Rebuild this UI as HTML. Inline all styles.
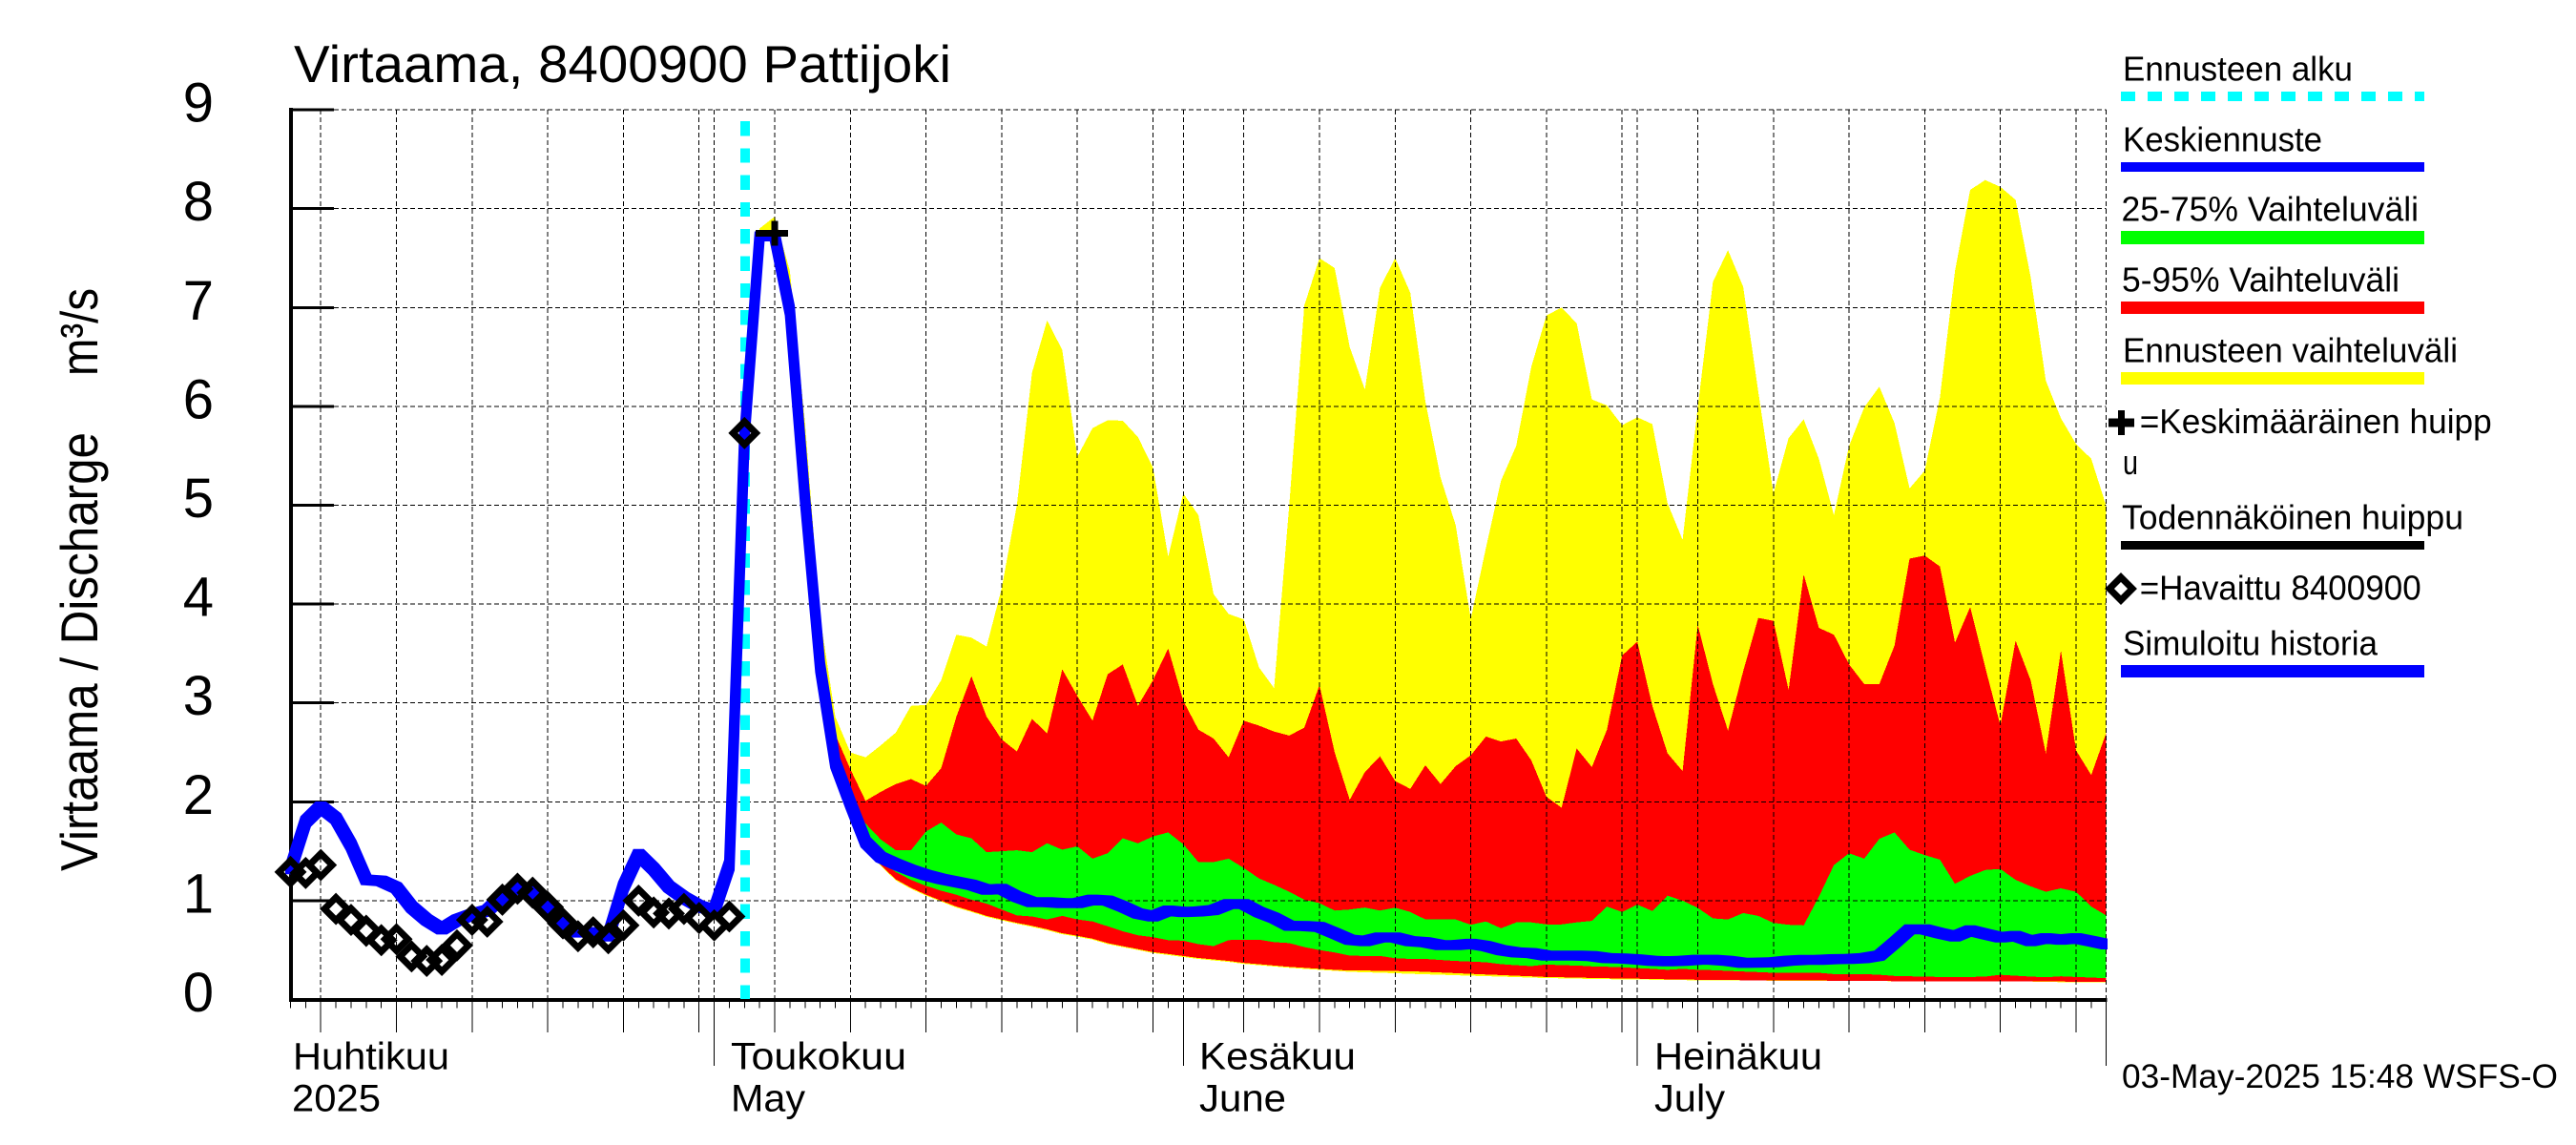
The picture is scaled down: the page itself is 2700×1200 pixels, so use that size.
<!DOCTYPE html>
<html lang="fi">
<head>
<meta charset="utf-8">
<title>Virtaama, 8400900 Pattijoki</title>
<style>
html,body{margin:0;padding:0;background:#fff;}
svg{display:block;}
text{font-family:"Liberation Sans",sans-serif;fill:#000;}
</style>
</head>
<body>
<svg id="chart" xmlns="http://www.w3.org/2000/svg" width="2700" height="1200" viewBox="0 0 2700 1200">
  <defs><clipPath id="plot-clip"><rect x="280" y="100" width="1929" height="960"/></clipPath></defs>
  <rect x="0" y="0" width="2700" height="1200" fill="#fff"/>
  <g id="fills" shape-rendering="crispEdges"></g>
  <g id="grid" shape-rendering="crispEdges"></g>
  <g id="axes" shape-rendering="crispEdges"></g>
  <g id="ticklabels"></g>
  <g id="series" clip-path="url(#plot-clip)"></g>

  <text x="308" y="86" font-size="55" textLength="689" lengthAdjust="spacingAndGlyphs">Virtaama, 8400900 Pattijoki</text>
  <text transform="translate(102 913) rotate(-90)" font-size="55" textLength="460" lengthAdjust="spacingAndGlyphs">Virtaama / Discharge</text>
  <text transform="translate(102 394) rotate(-90)" font-size="55" textLength="92" lengthAdjust="spacingAndGlyphs">m³/s</text>

  <text x="307" y="1120.5" font-size="40" textLength="164" lengthAdjust="spacingAndGlyphs">Huhtikuu</text>
  <text x="306" y="1164.5" font-size="40" textLength="93" lengthAdjust="spacingAndGlyphs">2025</text>
  <text x="766" y="1120.5" font-size="40" textLength="184" lengthAdjust="spacingAndGlyphs">Toukokuu</text>
  <text x="766" y="1164.5" font-size="40" textLength="78" lengthAdjust="spacingAndGlyphs">May</text>
  <text x="1257" y="1120.5" font-size="40" textLength="164" lengthAdjust="spacingAndGlyphs">Kesäkuu</text>
  <text x="1257" y="1164.5" font-size="40" textLength="91" lengthAdjust="spacingAndGlyphs">June</text>
  <text x="1734" y="1120.5" font-size="40" textLength="176" lengthAdjust="spacingAndGlyphs">Heinäkuu</text>
  <text x="1734" y="1164.5" font-size="40" textLength="74" lengthAdjust="spacingAndGlyphs">July</text>

  <g>
    <g>
      <text x="2225" y="84.7" font-size="36" textLength="241" lengthAdjust="spacingAndGlyphs">Ennusteen alku</text>
      <line x1="2223" y1="100.8" x2="2541" y2="100.8" stroke="#00ffff" stroke-width="10" stroke-dasharray="15 13" shape-rendering="crispEdges"/>
    </g>
    <g>
      <text x="2225" y="158.4" font-size="36" textLength="209" lengthAdjust="spacingAndGlyphs">Keskiennuste</text>
      <rect x="2223" y="170" width="318" height="10" fill="#0000ff"/>
    </g>
    <g>
      <text x="2223.5" y="231.6" font-size="36" textLength="311.5" lengthAdjust="spacingAndGlyphs">25-75% Vaihteluväli</text>
      <rect x="2223" y="242" width="318" height="14" fill="#00ff00"/>
    </g>
    <g>
      <text x="2224" y="305.7" font-size="36" textLength="291" lengthAdjust="spacingAndGlyphs">5-95% Vaihteluväli</text>
      <rect x="2223" y="316" width="318" height="13" fill="#ff0000"/>
    </g>
    <g>
      <text x="2225" y="379.4" font-size="36" textLength="351" lengthAdjust="spacingAndGlyphs">Ennusteen vaihteluväli</text>
      <rect x="2223" y="390" width="318" height="13" fill="#ffff00"/>
    </g>
    <g>
      <path d="M2210 438.5H2237V447.5H2210ZM2220 430H2227V456H2220Z" fill="#000" shape-rendering="crispEdges"/>
      <text x="2242.7" y="454" font-size="36" textLength="369" lengthAdjust="spacingAndGlyphs">=Keskimääräinen huipp</text>
      <text x="2225" y="497" font-size="36" textLength="16" lengthAdjust="spacingAndGlyphs">u</text>
    </g>
    <g>
      <text x="2224" y="554.4" font-size="36" textLength="358" lengthAdjust="spacingAndGlyphs">Todennäköinen huippu</text>
      <rect x="2223" y="567" width="318" height="9" fill="#000"/>
    </g>
    <g>
      <path d="M2223 605L2235 617L2223 629L2211 617Z" fill="none" stroke="#000" stroke-width="7"/>
      <text x="2242.7" y="628.5" font-size="36" textLength="295" lengthAdjust="spacingAndGlyphs">=Havaittu 8400900</text>
    </g>
    <g>
      <text x="2225" y="686.5" font-size="36" textLength="267" lengthAdjust="spacingAndGlyphs">Simuloitu historia</text>
      <rect x="2223" y="697" width="318" height="13" fill="#0000ff"/>
    </g>
  </g>
  <text x="2224" y="1140" font-size="35" textLength="457" lengthAdjust="spacingAndGlyphs">03-May-2025 15:48 WSFS-O</text>
</svg>
<script>
// All day values are offsets from 1 May 2025.
const yTickLabels = [0,1,2,3,4,5,6,7,8,9];
const forecastStartDay = 2;
const historyStartDay = -28;
const axisEndDay = 92;
const monthDays = [0,31,61,92];
const gridDays = [-26,-21,-16,-11,-6,-1,0,4,9,14,19,24,29,31,35,40,45,50,55,60,61,65,70,75,80,85,90,92];
const peakDay = 4;
const peakValue = 7.75;

// Forecast bands, one value per day from forecastStartDay (May 3) to Aug 1.
const yellowTop = [5.75,7.8,7.92,7.37,5.83,3.87,2.86,2.5,2.45,2.57,2.7,2.97,2.98,3.23,3.69,3.66,3.57,4.16,5.0,6.34,6.87,6.57,5.49,5.78,5.86,5.855,5.69,5.38,4.48,5.12,4.9,4.1,3.9,3.845,3.36,3.15,5.0,7.02,7.5,7.4,6.6,6.17,7.2,7.5,7.15,6.05,5.28,4.8,3.85,4.57,5.25,5.6,6.4,6.92,7.0,6.84,6.07,6.01,5.81,5.89,5.82,5.02,4.65,5.99,7.26,7.58,7.21,6.15,5.12,5.68,5.87,5.47,4.9,5.6,5.99,6.2,5.83,5.17,5.35,6.09,7.37,8.19,8.29,8.22,8.09,7.31,6.26,5.88,5.62,5.47,4.99];
const redTop = [5.72,7.74,7.74,7.0,5.15,3.38,2.68,2.33,2.01,2.1,2.18,2.23,2.16,2.34,2.86,3.27,2.86,2.63,2.51,2.84,2.69,3.34,3.07,2.82,3.29,3.39,2.97,3.23,3.55,3.02,2.73,2.64,2.45,2.82,2.77,2.71,2.67,2.75,3.18,2.5,2.02,2.3,2.46,2.21,2.13,2.37,2.18,2.36,2.47,2.66,2.61,2.64,2.42,2.05,1.94,2.54,2.35,2.73,3.48,3.62,2.97,2.49,2.31,3.79,3.19,2.72,3.32,3.86,3.83,3.13,4.3,3.76,3.69,3.39,3.19,3.19,3.58,4.46,4.49,4.38,3.61,3.97,3.36,2.77,3.63,3.23,2.49,3.53,2.52,2.27,2.7];
const greenTop = [5.7,7.72,7.72,6.97,5.06,3.36,2.42,2.0,1.78,1.62,1.51,1.51,1.7,1.79,1.67,1.63,1.49,1.5,1.51,1.49,1.58,1.515,1.55,1.425,1.48,1.63,1.58,1.65,1.69,1.57,1.39,1.39,1.425,1.33,1.225,1.16,1.09,1.01,0.975,0.9,0.91,0.93,0.9,0.93,0.885,0.81,0.81,0.81,0.756,0.79,0.72,0.78,0.78,0.76,0.76,0.78,0.795,0.94,0.885,0.96,0.895,1.05,1.0,0.927,0.82,0.81,0.875,0.846,0.775,0.756,0.75,1.04,1.36,1.48,1.425,1.625,1.69,1.515,1.46,1.415,1.17,1.25,1.31,1.32,1.21,1.145,1.09,1.125,1.09,0.94,0.85];
const greenBottom = [5.7,7.7,7.7,6.95,5.02,3.32,2.36,1.92,1.57,1.4,1.29,1.21,1.15,1.1,1.06,1.01,0.97,0.91,0.85,0.84,0.81,0.846,0.81,0.79,0.74,0.69,0.65,0.63,0.6,0.595,0.56,0.54,0.6,0.605,0.605,0.58,0.57,0.53,0.5,0.476,0.444,0.44,0.44,0.418,0.41,0.41,0.4,0.39,0.383,0.376,0.357,0.347,0.338,0.354,0.347,0.344,0.335,0.331,0.325,0.318,0.31,0.3,0.31,0.3,0.296,0.29,0.283,0.277,0.27,0.27,0.27,0.27,0.257,0.257,0.257,0.25,0.238,0.235,0.232,0.228,0.228,0.228,0.232,0.25,0.24,0.232,0.225,0.235,0.228,0.222,0.215];
const redBottom = [5.7,7.7,7.7,6.95,5.0,3.3,2.33,1.88,1.55,1.36,1.215,1.13,1.06,1.0,0.94,0.895,0.846,0.81,0.775,0.745,0.71,0.67,0.645,0.615,0.57,0.54,0.51,0.48,0.46,0.44,0.42,0.405,0.39,0.37,0.357,0.344,0.33,0.32,0.31,0.3,0.293,0.293,0.29,0.288,0.286,0.28,0.273,0.266,0.26,0.253,0.247,0.24,0.235,0.228,0.225,0.222,0.218,0.215,0.212,0.21,0.207,0.205,0.202,0.2,0.198,0.197,0.195,0.194,0.193,0.192,0.192,0.191,0.19,0.19,0.189,0.187,0.185,0.184,0.183,0.183,0.182,0.182,0.182,0.182,0.181,0.181,0.181,0.181,0.18,0.18,0.18];
const yellowBottom = [5.7,7.7,7.7,6.94,4.98,3.28,2.31,1.87,1.54,1.35,1.205,1.12,1.05,0.99,0.93,0.885,0.836,0.8,0.765,0.735,0.7,0.66,0.635,0.605,0.56,0.53,0.5,0.47,0.45,0.43,0.41,0.395,0.38,0.36,0.347,0.334,0.32,0.31,0.3,0.29,0.28,0.275,0.27,0.265,0.26,0.255,0.25,0.245,0.24,0.236,0.232,0.226,0.222,0.216,0.214,0.211,0.208,0.206,0.204,0.202,0.2,0.198,0.196,0.194,0.193,0.192,0.191,0.191,0.19,0.19,0.19,0.19,0.189,0.188,0.187,0.186,0.185,0.184,0.183,0.183,0.182,0.182,0.182,0.182,0.181,0.181,0.178,0.176,0.175,0.175,0.174];
const meanForecast = [5.7,7.72,7.72,6.97,5.06,3.36,2.39,1.98,1.59,1.44,1.37,1.31,1.26,1.22,1.19,1.16,1.11,1.12,1.04,0.985,0.985,0.975,0.975,1.01,1.0,0.94,0.87,0.84,0.9,0.885,0.89,0.905,0.965,0.965,0.885,0.825,0.746,0.743,0.733,0.67,0.605,0.59,0.627,0.627,0.59,0.58,0.55,0.55,0.563,0.54,0.5,0.476,0.47,0.444,0.444,0.444,0.44,0.418,0.415,0.405,0.39,0.386,0.39,0.402,0.402,0.39,0.37,0.373,0.376,0.392,0.4,0.4,0.408,0.41,0.418,0.444,0.573,0.71,0.71,0.67,0.637,0.7,0.663,0.627,0.643,0.59,0.62,0.605,0.62,0.59,0.557];

// History, one value per day from historyStartDay (Apr 3) to May 3.
const simulatedHistory = [1.32,1.8,1.95,1.83,1.56,1.21,1.2,1.13,0.935,0.805,0.71,0.805,0.86,0.9,1.045,1.14,1.08,0.916,0.77,0.68,0.68,0.64,1.14,1.47,1.32,1.14,1.03,0.945,0.9,1.36,5.7];
const observedValues = [1.29,1.28,1.36,0.916,0.805,0.695,0.6,0.61,0.436,0.39,0.4,0.547,0.805,0.787,1.01,1.12,1.08,0.935,0.77,0.64,0.68,0.62,0.75,1.0,0.88,0.87,0.916,0.824,0.75,0.84,5.73];

const NS = 'http://www.w3.org/2000/svg';
function xScale(day){ return 748.6 + 15.86 * day; }
function yScale(value){ return 1047.5 - 103.6 * value; }
function make(tag, parent){
  const el = document.createElementNS(NS, tag);
  document.getElementById(parent).appendChild(el);
  return el;
}
function bandPoints(top, bottom, startDay){
  const pts = [];
  top.forEach(function(v, i){ pts.push(xScale(startDay + i).toFixed(1) + ',' + yScale(v).toFixed(1)); });
  for (let i = bottom.length - 1; i >= 0; i--) { pts.push(xScale(startDay + i).toFixed(1) + ',' + yScale(bottom[i]).toFixed(1)); }
  return pts.join(' ');
}
// The original plotter draws lines with a square pen: each segment is the
// segment swept by a square, which gives a hexagon.
function squarePenPath(values, startDay, h){
  let d = '';
  for (let i = 0; i + 1 < values.length; i++) {
    const x0 = xScale(startDay + i), y0 = yScale(values[i]);
    const x1 = xScale(startDay + i + 1), y1 = yScale(values[i + 1]);
    let p;
    if (y1 >= y0) {
      p = [[x0-h,y0-h],[x0+h,y0-h],[x1+h,y1-h],[x1+h,y1+h],[x1-h,y1+h],[x0-h,y0+h]];
    } else {
      p = [[x0-h,y0-h],[x1-h,y1-h],[x1+h,y1-h],[x1+h,y1+h],[x0+h,y0+h],[x0-h,y0+h]];
    }
    d += 'M' + p.map(function(q){ return q[0].toFixed(1) + ' ' + q[1].toFixed(1); }).join('L') + 'Z';
  }
  return d;
}

// Bands
const yellowBand = make('polygon', 'fills');


yellowBand.setAttribute('fill', '#ffff00');
yellowBand.setAttribute('points', bandPoints(yellowTop, yellowBottom, forecastStartDay));

const redBand = make('polygon', 'fills');


redBand.setAttribute('fill', '#ff0000');
redBand.setAttribute('points', bandPoints(redTop, redBottom, forecastStartDay));

const greenBand = make('polygon', 'fills');


greenBand.setAttribute('fill', '#00ff00');
greenBand.setAttribute('points', bandPoints(greenTop, greenBottom, forecastStartDay));

// Grid
yTickLabels.forEach(function(v){
  if (v === 0) return;
  const g = make('line', 'grid');
  
  
  g.setAttribute('x1', 350);
  g.setAttribute('x2', xScale(axisEndDay));
  g.setAttribute('y1', yScale(v));
  g.setAttribute('y2', yScale(v));
  g.setAttribute('stroke', '#000');
  g.setAttribute('stroke-width', '1');
  g.setAttribute('stroke-dasharray', '5 3');
});
gridDays.forEach(function(d){
  const g = make('line', 'grid');
  
  
  g.setAttribute('x1', xScale(d));
  g.setAttribute('x2', xScale(d));
  g.setAttribute('y1', 115);
  g.setAttribute('y2', 1047);
  g.setAttribute('stroke', '#000');
  g.setAttribute('stroke-width', '1');
  g.setAttribute('stroke-dasharray', '5 3');
});

// Axes
const yAxis = make('line', 'axes');


yAxis.setAttribute('x1', 305);
yAxis.setAttribute('x2', 305);
yAxis.setAttribute('y1', 113);
yAxis.setAttribute('y2', 1050);
yAxis.setAttribute('stroke', '#000');
yAxis.setAttribute('stroke-width', '4');

const xAxis = make('line', 'axes');


xAxis.setAttribute('x1', 303);
xAxis.setAttribute('x2', xScale(axisEndDay) + 1);
xAxis.setAttribute('y1', 1048);
xAxis.setAttribute('y2', 1048);
xAxis.setAttribute('stroke', '#000');
xAxis.setAttribute('stroke-width', '4');

yTickLabels.forEach(function(v){
  if (v > 0) {
    const t = make('line', 'axes');
    
    
    t.setAttribute('x1', 305);
    t.setAttribute('x2', 350);
    t.setAttribute('y1', yScale(v));
    t.setAttribute('y2', yScale(v));
    t.setAttribute('stroke', '#000');
    t.setAttribute('stroke-width', '3');
  }
  const lab = make('text', 'ticklabels');
  
  
  lab.setAttribute('x', 224);
  lab.setAttribute('y', yScale(v) + 12.5);
  lab.setAttribute('font-size', '58');
  lab.setAttribute('text-anchor', 'end');
  lab.textContent = v;
});

for (let d = historyStartDay; d <= axisEndDay; d++) {
  let end = 1056.5;
  if (gridDays.indexOf(d) >= 0) end = 1082;
  if (monthDays.indexOf(d) >= 0) end = 1117;
  const t = make('line', 'axes');
  
  
  t.setAttribute('x1', xScale(d));
  t.setAttribute('x2', xScale(d));
  t.setAttribute('y1', 1048);
  t.setAttribute('y2', end);
  t.setAttribute('stroke', '#000');
  t.setAttribute('stroke-width', '1');
}

// Forecast start marker
const startLine = make('line', 'series');


startLine.setAttribute('x1', xScale(forecastStartDay) + 0.5);
startLine.setAttribute('x2', xScale(forecastStartDay) + 0.5);
startLine.setAttribute('y1', 127);
startLine.setAttribute('y2', 1047);
startLine.setAttribute('stroke', '#00ffff');
startLine.setAttribute('stroke-width', '10');
startLine.setAttribute('stroke-dasharray', '15.3 13');
startLine.setAttribute('shape-rendering', 'crispEdges');

// Blue lines
const simLine = make('path', 'series');


simLine.setAttribute('fill', '#0000ff');
simLine.setAttribute('d', squarePenPath(simulatedHistory, historyStartDay, 5.5));

const meanLine = make('path', 'series');


meanLine.setAttribute('fill', '#0000ff');
meanLine.setAttribute('d', squarePenPath(meanForecast, forecastStartDay, 5.25));

// Observed diamonds
observedValues.forEach(function(v, i){
  const cx = xScale(historyStartDay + i);
  const cy = yScale(v);
  const m = make('path', 'series');
  
  
  m.setAttribute('d', 'M' + cx + ' ' + (cy - 12) + 'L' + (cx + 12) + ' ' + cy + 'L' + cx + ' ' + (cy + 12) + 'L' + (cx - 12) + ' ' + cy + 'Z');
  m.setAttribute('fill', 'none');
  m.setAttribute('stroke', '#000');
  m.setAttribute('stroke-width', '7');
});

// Mean peak cross
const px = xScale(peakDay);
const py = yScale(peakValue);
const cross = make('path', 'series');


cross.setAttribute('d', 'M' + (px - 20) + ' ' + (py - 3.5) + 'H' + (px + 14) + 'V' + (py + 3.5) + 'H' + (px - 20) + 'Z' + 'M' + (px - 3.5) + ' ' + (py - 13) + 'H' + (px + 3.5) + 'V' + (py + 13) + 'H' + (px - 3.5) + 'Z');
cross.setAttribute('fill', '#000');
cross.setAttribute('shape-rendering', 'crispEdges');
</script>
</body>
</html>
